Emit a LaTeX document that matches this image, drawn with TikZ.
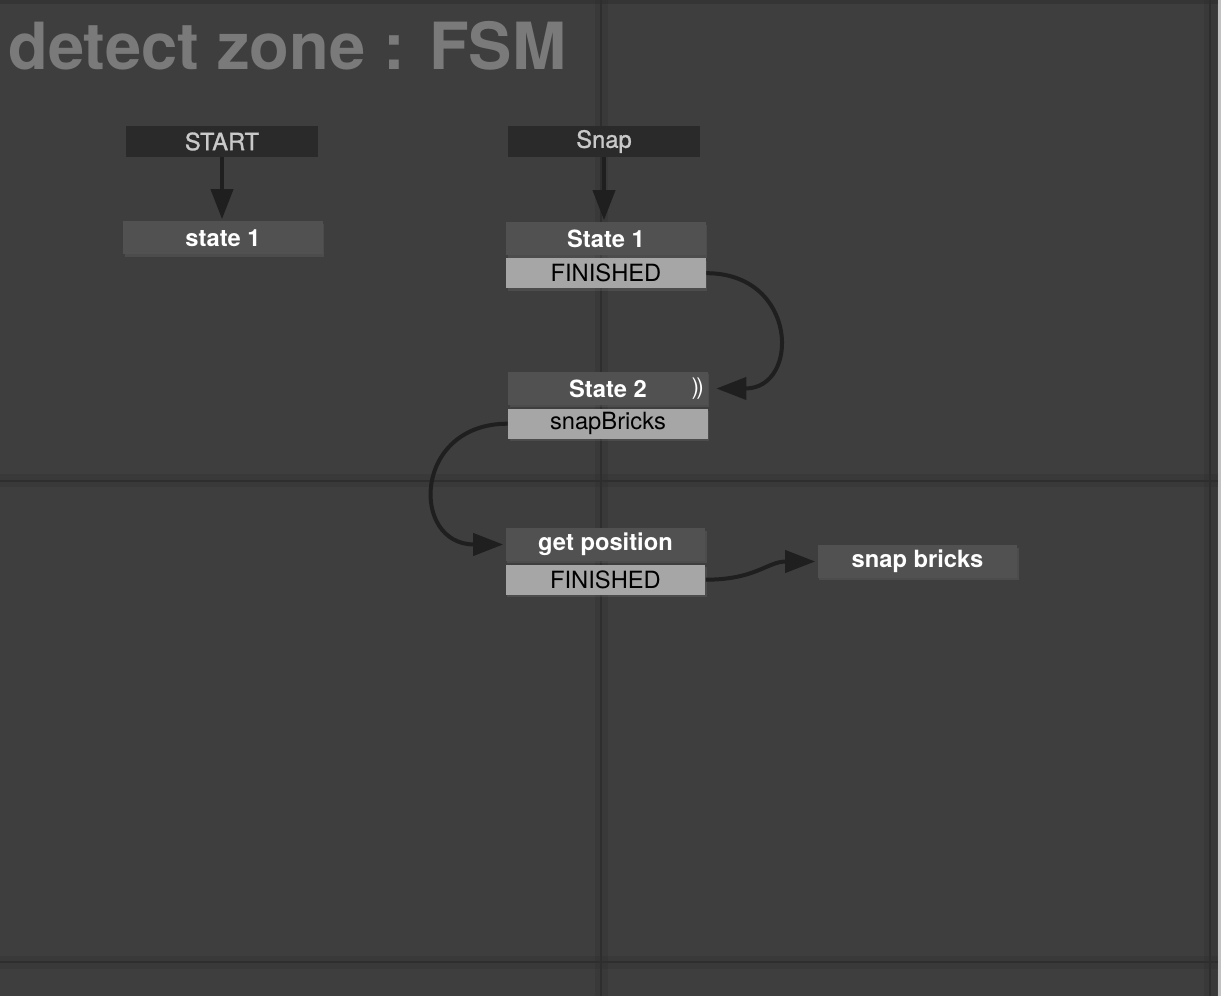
\documentclass[tikz,border=0pt]{standalone}
\usepackage{fontspec}
\setmainfont{TeX Gyre Heros}
\usetikzlibrary{positioning}
\usetikzlibrary{arrows.meta}
\usetikzlibrary{shadows}
\definecolor{Canvas}{HTML}{3E3E3E}
\definecolor{GridDark}{HTML}{2E2E2E}
\definecolor{TitleGray}{HTML}{7A7A7A}
\definecolor{EventFill}{HTML}{2A2A2A}
\definecolor{EventText}{HTML}{C9C9C9}
\definecolor{StateFill}{HTML}{515151}
\definecolor{RowFill}{HTML}{A6A6A6}
\definecolor{LinkGray}{HTML}{1F1F1F}
\tikzset{
  % soft shadows under the boxes
  every shadow/.style={opacity=.22,shadow xshift=.03cm,shadow yshift=-.05cm},
  % background grid of the canvas
  gridline/.style={GridDark,line width=.05cm},
  gridglow/.style={GridDark,line width=.26cm,opacity=.3},
  % boxes
  event/.style={fill=EventFill,text=EventText,minimum width=3.84cm,
    minimum height=.62cm,inner sep=0pt,
    font=\fontsize{13.5}{15}\selectfont\addfontfeature{FakeBold=1.2}},
  state/.style={fill=StateFill,text=white,minimum width=4cm,
    minimum height=.66cm,inner sep=0pt,drop shadow,
    font=\fontsize{13.5}{15}\selectfont\bfseries},
  action/.style={fill=RowFill,text=black,minimum width=4cm,
    minimum height=.6cm,inner sep=0pt,drop shadow,
    font=\fontsize{13.5}{15}\selectfont},
  % transitions
  link/.style={LinkGray,line width=.08cm,
    -{Triangle[length=.6cm,width=.44cm]}},
}

\begin{document}
\begin{tikzpicture}[x=.02cm,y=-.02cm]
  \useasboundingbox (0,0) rectangle (1221,996);
  % canvas
  \fill[Canvas] (0,0) rectangle (1221,996);
  \fill[GridDark,opacity=.5] (0,0) rectangle (1221,4);
  \draw[gridglow] (601,0) -- (601,996);
  \draw[gridglow] (1210,0) -- (1210,996);
  \draw[gridglow] (0,481) -- (1221,481);
  \draw[gridglow] (0,962) -- (1221,962);
  \draw[gridline] (601,0) -- (601,996);
  \draw[gridline] (1210,0) -- (1210,996);
  \draw[gridline] (0,481) -- (1221,481);
  \draw[gridline] (0,962) -- (1221,962);
  \fill[RowFill!70] (1218,0) rectangle (1221,996);
  \node[anchor=base west,inner sep=0pt,text=TitleGray,
    font=\fontsize{37}{40}\selectfont\bfseries] (title) at (8,70)
    {detect zone : FSM};

  % left fsm
  \node[event] (start) at (222,141.5) {START};
  \node[state] (lstate) at (223,238) {state 1};

  % right fsm
  \node[event] (snap) at (604,141.5) {Snap};
  \node[state] (s1) at (606,239) {State 1};
  \node[action,below=.04cm of s1] (s1fin) {FINISHED};
  \node[state] (s2) at (608,388.5) {State 2};
  \node[action,below=.06cm of s2] (s2act) {snapBricks};
  \node[text=white,inner sep=0pt,font=\fontsize{13}{14}\selectfont,
    left=.08cm of s2.east] (s2icon) {)\kern-.12em)};
  \node[state] (getpos) at (605.5,544.5) {get position};
  \node[action,below=.06cm of getpos] (gpfin) {FINISHED};
  \node[state] (snapb) at (917.5,561.5) {snap bricks};

  \draw[link,shorten >=.04cm] (start) -- (start |- lstate.north);
  \draw[link,shorten >=.04cm] (snap) -- (snap |- s1.north);
  \draw[link,shorten >=.16cm] (s1fin.east)
    .. controls +(92,0) and +(92,0) .. (s2.east);
  \draw[link,shorten >=.04cm] (s2act.west)
    .. controls +(-95,0) and +(-95,0) .. (getpos.west);
  \draw[link,shorten >=.04cm] (gpfin.east)
    .. controls +(50,0) and +(-50,0) .. (snapb.west);
\end{tikzpicture}
\end{document}
